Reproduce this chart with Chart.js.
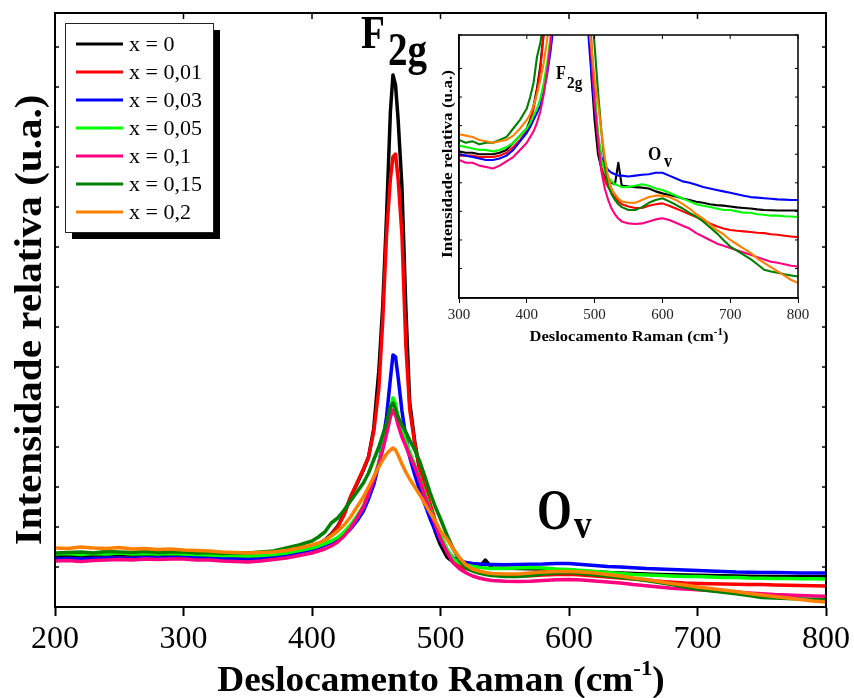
<!DOCTYPE html>
<html>
<head>
<meta charset="utf-8">
<title>Espectros Raman</title>
<script src="https://cdn.jsdelivr.net/npm/chart.js@4.4.0/dist/chart.umd.min.js"></script>
<style>
  body { margin: 0; background: #fff; }
  #wrap { position: relative; width: 854px; height: 698px; }
  #main { position: absolute; left: 0; top: 0; }
  #inset { position: absolute; left: 420px; top: 25px; }
</style>
</head>
<body>
<div id="wrap">
  <canvas id="main" width="854" height="698"></canvas>
  <canvas id="inset" width="420" height="330"></canvas>
</div>
<script>
// Raman shift grid (cm-1), denser around the F2g peak
const shifts = [
  200, 210, 220, 230, 240, 250, 260, 270, 280, 290, 300, 310, 320, 330, 340, 350, 360, 370, 380, 390, 400,
  405, 410, 415, 420, 425, 430, 435, 440,
  444, 448, 452, 455, 458, 461, 463, 465, 467, 470, 473, 476, 480, 484, 488, 492, 496, 500, 505,
  510, 515, 520, 525, 530, 535, 540,
  550, 560, 570, 580, 590, 600, 610, 620, 630, 640, 650, 660, 670, 680, 690, 700, 710, 720, 730, 740, 750, 760, 770, 780, 790, 800
];

const labels = ["x = 0", "x = 0,01", "x = 0,03", "x = 0,05", "x = 0,1", "x = 0,15", "x = 0,2"];
const colors = ["#000000", "#ff0000", "#0000ff", "#00ff00", "#ff0080", "#008000", "#ff8000"];

// relative intensity (u.a.)
const x0 = [
  51, 51.5, 51, 51.5, 51.5, 52, 51.5, 52, 51.5, 51.5, 51, 50.5, 50.5, 50, 50, 50, 50.5, 51.5, 54, 56.5, 59,
  62, 67, 73, 81, 93, 110, 123, 137,
  150, 178, 236, 300, 390, 495, 532, 522, 488, 420, 300, 205, 165, 135, 115, 95, 75, 62, 50,
  45, 42, 41, 40, 39.5, 47, 39,
  38.7, 38.5, 38.3, 38, 37, 36.3, 35.7, 35.2, 34.5, 34, 33.4, 33, 32.5, 32.2, 32, 31.7, 31.4, 31.2, 31, 30.7, 30.5, 30.4, 30.3, 30.3, 30.3, 30.3
];
const x001 = [
  48, 48.5, 48, 48.5, 48.5, 49, 48.5, 49, 49, 49.5, 49.5, 49.5, 49.5, 49, 49, 49, 49.5, 50.5, 52.5, 55, 58,
  61, 66, 72, 80, 92, 110, 124, 138,
  150, 175, 218, 285, 372, 428, 450, 453, 428, 372, 262, 198, 163, 137, 120, 103, 86, 71, 56,
  45, 41, 38.5, 36.5, 35, 33.5, 32.5,
  31.7, 31.2, 31.2, 32, 32.5, 32.8, 32, 31, 30, 29, 28, 27, 25.8, 24.8, 24, 23.5, 23.2, 23, 22.8, 22.5, 22.4, 22, 21.8, 21.5, 21.2, 21
];
const x003 = [
  48, 48.5, 48, 48.5, 49, 49, 48.5, 49.5, 49, 49.5, 50, 49.5, 49, 48.5, 48, 48, 48.5, 49.5, 51.5, 54.5, 57.5,
  59.5, 62, 64.5, 67, 72, 78, 86, 96,
  108, 122, 143, 165, 190, 228, 252, 250, 230, 196, 170, 150, 132, 116, 102, 88, 76, 66, 56,
  49, 46, 44.5, 43.5, 43, 42.5, 42.5,
  42.2, 42.5, 42.8, 43, 43.5, 43.5, 42.5, 41.5, 40.5, 40, 39.3, 38.5, 38, 37.5, 37, 36.5, 36, 35.5, 35, 34.8, 34.6, 34.4, 34.2, 34.1, 34, 34
];
const x005 = [
  53, 53.5, 52.5, 53.5, 53, 54, 53, 53.5, 53, 53.5, 53, 52.5, 52, 51.5, 51.5, 51, 51.5, 52.5, 54, 56.5, 59,
  61, 63.5, 66, 69.5, 75, 82, 91, 101,
  114, 128, 145, 160, 177, 198, 209, 203, 190, 177, 166, 155, 142, 128, 113, 98, 84, 72, 58,
  48, 44, 42, 40.5, 39.5, 39, 38.5,
  38.5, 39, 39.5, 39, 38, 37.5, 36.5, 35.5, 34.5, 33.5, 32.5, 32, 31.5, 31, 30.5, 30.5, 30, 29.5, 29.5, 29, 28.8, 28.5, 28.5, 28.3, 28.2, 28
];
const x01 = [
  46, 46.5, 45.5, 46.5, 47, 47.5, 47, 48, 47.5, 48, 48, 47, 47, 46, 45.5, 45, 46, 47.5, 49, 51.5, 54,
  56, 58, 61, 65, 71, 79, 89, 100,
  113, 127, 143, 157, 173, 190, 197, 192, 182, 170, 161, 151, 140, 126, 110, 96, 82, 68, 55,
  44, 38, 34, 31, 29, 27.5, 26.5,
  25.8, 25.6, 25.8, 26.5, 27.2, 27.6, 27, 26, 25, 24, 22.4, 21.2, 20, 18.8, 18, 17.2, 16.4, 15.6, 14.8, 14, 13.2, 12.4, 12, 11.5, 11, 10.7
];
const x015 = [
  54, 54.5, 55, 54, 55.5, 55, 54.5, 55.5, 54.5, 55, 55, 54, 54.5, 53.5, 54, 54, 55, 56, 59, 62, 66,
  70, 75, 84, 89, 97, 106, 115, 124,
  134, 147, 160, 172, 184, 200, 204, 198, 190, 182, 175, 167, 157, 145, 130, 114, 100, 88, 72,
  58, 46, 39, 36, 34, 32.5, 31.5,
  30.5, 30.5, 31.5, 33, 34, 34.6, 33.5, 32.3, 31, 29.5, 28.2, 26.5, 24.5, 22.4, 20, 17.7, 16.3, 14.8, 13.3, 11.5, 9.6, 9, 8.5, 8, 7.6, 7.2
];
const x02 = [
  59, 58.5, 60, 59, 58.5, 59.5, 58, 58.5, 57.5, 58, 57, 56.5, 56, 55, 54.5, 54, 54.5, 55, 56.5, 59, 62,
  64, 67, 71, 76, 82, 90, 100, 110,
  120, 130, 140, 147, 153, 157, 159, 157, 152, 143, 135, 128, 120, 112, 103, 94, 86, 76, 68,
  58, 49, 42, 38, 36, 34.5, 33.5,
  33, 33, 34, 35, 35.5, 35.5, 35, 34, 32.5, 31, 29, 27.5, 25.5, 23.5, 22, 20, 18.5, 17, 15.5, 13.5, 12, 10.5, 9, 7.5, 6, 5
];

const seriesValues = [x0, x001, x003, x005, x01, x015, x02];

const SERIF = "'Liberation Serif', 'Times New Roman', serif";

function buildDatasets(width) {
    return seriesValues.map((vals, i) => ({
        label: labels[i],
        data: shifts.map((s, j) => ({ x: s, y: vals[j] })),
        borderColor: colors[i],
        backgroundColor: colors[i],
        borderWidth: width,
        pointRadius: 0,
        tension: 0,
        borderJoinStyle: "round",
        order: seriesValues.length - 1 - i,
        clip: 0
    }));
}

function drawText(ctx, text, font, x, y, sx) {
    ctx.save();
    ctx.font = font;
    ctx.textAlign = "left";
    ctx.textBaseline = "alphabetic";
    ctx.translate(x, y);
    ctx.scale(sx || 1, 1);
    ctx.fillText(text, 0, 0);
    ctx.restore();
}

// centred text made of parts (used for the cm-1 superscript); stretch works along the text
function drawRich(ctx, parts, x, y, rotate, stretch) {
    ctx.save();
    ctx.translate(x, y);
    if (rotate) ctx.rotate(-Math.PI / 2);
    ctx.scale(stretch || 1, 1);
    ctx.textAlign = "left";
    ctx.textBaseline = "alphabetic";
    let total = 0;
    parts.forEach(p => { ctx.font = p.font; p.w = ctx.measureText(p.text).width; total += p.w; });
    let cx = -total / 2;
    parts.forEach(p => { ctx.font = p.font; ctx.fillText(p.text, cx, p.dy || 0); cx += p.w; });
    ctx.restore();
}

function tick(ctx, x1, y1, x2, y2) {
    ctx.beginPath();
    ctx.moveTo(x1, y1);
    ctx.lineTo(x2, y2);
    ctx.stroke();
}

const mainDecor = {
    id: "mainDecor",
    afterDraw(chart) {
        const { ctx, chartArea: a, scales } = chart;
        ctx.save();
        ctx.strokeStyle = "#000";
        ctx.lineWidth = 2;
        ctx.strokeRect(a.left, a.top, a.right - a.left, a.bottom - a.top);
        ctx.lineWidth = 1.5;
        scales.x.ticks.forEach(t => {
            const px = scales.x.getPixelForValue(t.value);
            tick(ctx, px, a.top, px, a.top + 6);
        });
        scales.y.ticks.forEach(t => {
            const py = scales.y.getPixelForValue(t.value);
            tick(ctx, a.left, py, a.left + 4, py);
            tick(ctx, a.right, py, a.right - 4, py);
        });

        ctx.fillStyle = "#000";
        drawRich(ctx, [
            { text: "Deslocamento Raman (cm", font: "bold 36px " + SERIF },
            { text: "-1", font: "bold 22px " + SERIF, dy: -16 },
            { text: ")", font: "bold 36px " + SERIF }
        ], 441, 691, false, 1.035);
        drawRich(ctx, [
            { text: "Intensidade relativa (u.a.)", font: "bold 38px " + SERIF }
        ], 41, 320, true, 1.08);

        drawText(ctx, "F", "bold 46px " + SERIF, 361, 48, 0.85);
        drawText(ctx, "2g", "bold 46px " + SERIF, 388, 65, 0.85);
        drawText(ctx, "O", "bold 56px " + SERIF, 537, 529, 0.8);
        drawText(ctx, "v", "bold 40px " + SERIF, 574, 538, 0.88);

        // legend with drop shadow
        const bx = 65, by = 23, bw = 148, bh = 209;
        ctx.fillStyle = "#000";
        ctx.fillRect(bx + 7, by + 7, bw, bh);
        ctx.fillStyle = "#fff";
        ctx.fillRect(bx, by, bw, bh);
        ctx.strokeStyle = "#222";
        ctx.lineWidth = 1;
        ctx.strokeRect(bx + 0.5, by + 0.5, bw, bh);
        labels.forEach((lab, i) => {
            const ry = 44 + i * 28;
            ctx.strokeStyle = colors[i];
            ctx.lineWidth = 3;
            tick(ctx, 76, ry, 123, ry);
            ctx.fillStyle = "#000";
            ctx.font = "22px " + SERIF;
            ctx.textBaseline = "middle";
            ctx.fillText(lab, 129, ry + 1);
        });
        ctx.restore();
    }
};

const insetDecor = {
    id: "insetDecor",
    afterDraw(chart) {
        const { ctx, chartArea: a, scales } = chart;
        ctx.save();
        ctx.strokeStyle = "#000";
        ctx.lineWidth = 1.5;
        ctx.strokeRect(a.left, a.top, a.right - a.left, a.bottom - a.top);
        ctx.lineWidth = 1;
        scales.x.ticks.forEach(t => {
            const px = scales.x.getPixelForValue(t.value);
            tick(ctx, px, a.top, px, a.top + 4);
        });
        scales.y.ticks.forEach(t => {
            const py = scales.y.getPixelForValue(t.value);
            tick(ctx, a.left, py, a.left + 3, py);
            tick(ctx, a.right, py, a.right - 3, py);
        });
        ctx.fillStyle = "#000";
        drawRich(ctx, [
            { text: "Deslocamento Raman (cm", font: "bold 15px " + SERIF },
            { text: "-1", font: "bold 10px " + SERIF, dy: -6 },
            { text: ")", font: "bold 15px " + SERIF }
        ], 209, 316, false, 1.1);
        drawRich(ctx, [
            { text: "Intensidade relativa (u.a.)", font: "bold 15px " + SERIF }
        ], 32, 139, true, 1.14);
        drawText(ctx, "F", "bold 18px " + SERIF, 136, 54, 0.9);
        drawText(ctx, "2g", "bold 17px " + SERIF, 147, 63, 0.9);
        drawText(ctx, "O", "bold 19px " + SERIF, 228, 135, 0.9);
        drawText(ctx, "v", "bold 18px " + SERIF, 244, 142, 0.9);
        ctx.restore();
    }
};

const mainTicks = [200, 300, 400, 500, 600, 700, 800];
const insetTicks = [300, 400, 500, 600, 700, 800];

new Chart(document.getElementById("main"), {
    type: "line",
    data: { datasets: buildDatasets(3.5) },
    options: {
        responsive: false,
        animation: false,
        layout: { padding: { top: 13, right: 26, left: 0, bottom: 0 } },
        plugins: { legend: { display: false }, tooltip: { enabled: false } },
        scales: {
            x: {
                type: "linear",
                min: mainTicks[0],
                max: mainTicks[mainTicks.length - 1],
                afterBuildTicks: (s) => { s.ticks = mainTicks.map(v => ({ value: v })); },
                afterFit: (s) => { s.height = 91; },
                grid: { drawOnChartArea: false, tickLength: 9, tickColor: "#000", tickWidth: 2 },
                border: { color: "#000", width: 2 },
                ticks: { color: "#000", padding: 4, font: { family: SERIF, size: 32 } }
            },
            y: {
                min: 0,
                max: 594,
                afterFit: (s) => { s.width = 55; },
                ticks: { display: false, stepSize: 40 },
                grid: { display: false },
                border: { color: "#000", width: 2 }
            }
        }
    },
    plugins: [mainDecor]
});

new Chart(document.getElementById("inset"), {
    type: "line",
    data: { datasets: buildDatasets(2.1) },
    options: {
        responsive: false,
        animation: false,
        layout: { padding: { top: 10, right: 42, left: 0, bottom: 0 } },
        plugins: { legend: { display: false }, tooltip: { enabled: false } },
        scales: {
            x: {
                type: "linear",
                min: insetTicks[0],
                max: insetTicks[insetTicks.length - 1],
                afterBuildTicks: (s) => { s.ticks = insetTicks.map(v => ({ value: v })); },
                afterFit: (s) => { s.height = 57; },
                grid: { drawOnChartArea: false, tickLength: 5, tickColor: "#000", tickWidth: 1 },
                border: { color: "#000", width: 1.5 },
                ticks: { color: "#222", padding: 3, font: { family: SERIF, size: 15 } }
            },
            y: {
                min: -0.3,
                max: 91.7,
                afterFit: (s) => { s.width = 39; },
                ticks: { display: false, stepSize: 10 },
                grid: { display: false },
                border: { color: "#000", width: 1.5 }
            }
        }
    },
    plugins: [insetDecor]
});
</script>
</body>
</html>
